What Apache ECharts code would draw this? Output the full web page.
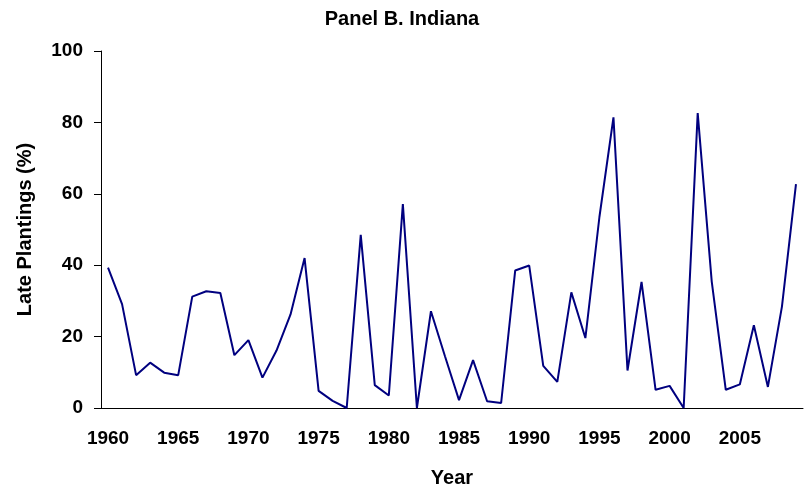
<!DOCTYPE html>
<html>
<head>
<meta charset="utf-8">
<script src="https://cdn.jsdelivr.net/npm/echarts@6/dist/echarts.min.js"></script>
<style>
  html, body { margin: 0; padding: 0; background: #fff; }
  #chart { width: 804px; height: 489px; }
</style>
</head>
<body>
<div id="chart"></div>
<script>
const years = []
for (let y = 1960; y <= 2009; y++) years.push(String(y))

// late plantings share
const latePlantings = [
  39.3, 29.1, 9.2, 12.7, 9.9, 9.2, 31.2, 32.7, 32.2, 14.8,
  19.0, 8.5, 16.1, 26.2, 42.0, 4.8, 2.0, 0.0, 48.5, 6.4,
  3.5, 57.1, 0.0, 27.1, 14.5, 2.2, 13.4, 1.9, 1.4, 38.5,
  39.9, 11.8, 7.3, 32.4, 19.6, 53.5, 81.4, 10.5, 35.3, 5.1,
  6.2, 0.0, 82.6, 35.4, 5.1, 6.6, 23.2, 5.9, 28.4, 62.7,
]

const font = 'Liberation Sans, Arial, sans-serif'
const chart = echarts.init(document.getElementById('chart'))

chart.setOption({
  animation: false,
  title: {
    text: 'Panel B. Indiana',
    left: 'center',
    top: 4,
    textStyle: { fontFamily: font, fontWeight: 'bold', fontSize: 20, color: '#000' },
  },
  grid: { left: 101, right: 1, top: 51, bottom: 81, containLabel: false, outerBoundsMode: 'none' },
  xAxis: {
    type: 'category',
    data: years,
    boundaryGap: true,
    name: 'Year',
    nameLocation: 'middle',
    nameGap: 60,
    nameTextStyle: { fontFamily: font, fontWeight: 'bold', fontSize: 20, color: '#000' },
    axisLine: { lineStyle: { color: '#000', width: 1 } },
    axisTick: { interval: 0, length: 6, lineStyle: { color: '#000' } },
    axisLabel: {
      interval: 4,
      margin: 21,
      fontFamily: font, fontWeight: 'bold', fontSize: 19, color: '#000',
    },
    splitLine: { show: false },
  },
  yAxis: {
    type: 'value',
    min: 0,
    max: 100,
    interval: 20,
    name: 'Late Plantings (%)',
    nameLocation: 'middle',
    nameGap: 66,
    nameTextStyle: { fontFamily: font, fontWeight: 'bold', fontSize: 20, color: '#000' },
    axisLine: { show: true, lineStyle: { color: '#000', width: 1 } },
    axisTick: { show: true, length: 7, lineStyle: { color: '#000' } },
    axisLabel: {
      margin: 18,
      fontFamily: font, fontWeight: 'bold', fontSize: 19, color: '#000',
    },
    splitLine: { show: false },
  },
  series: [{
    type: 'line',
    data: latePlantings,
    showSymbol: false,
    lineStyle: { color: '#00007f', width: 2 },
  }],
})
</script>
</body>
</html>
